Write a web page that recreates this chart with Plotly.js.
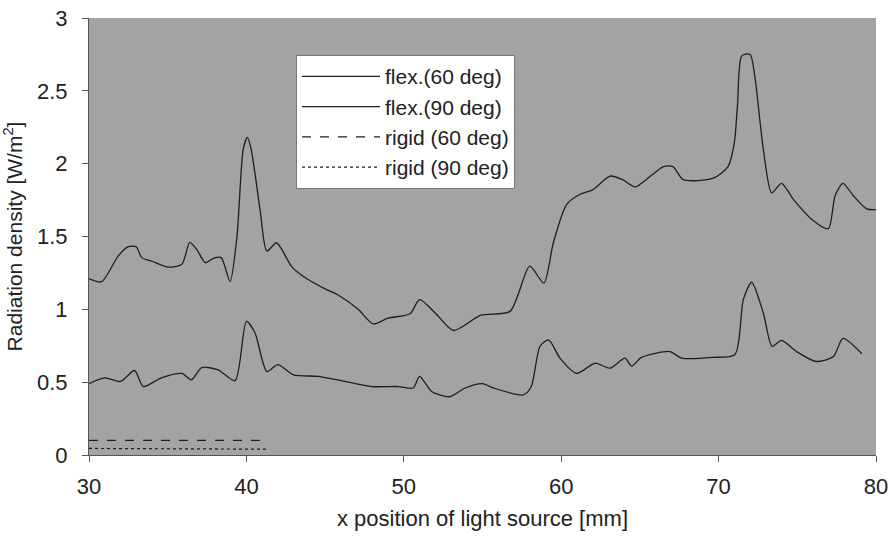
<!DOCTYPE html>
<html>
<head>
<meta charset="utf-8">
<script src="https://cdn.plot.ly/plotly-3.0.1.min.js"></script>
<style>html,body{margin:0;padding:0;background:#fff;}#chart{width:893px;height:536px;}</style>
</head>
<body>
<div id="chart"></div>
<script>
const seriesNames = ["flex.(60 deg)", "flex.(90 deg)", "rigid (60 deg)", "rigid (90 deg)"];

const flex60X = [30,30.8,31.85,32.5,33.0,33.35,34.0,35.0,35.9,36.4,36.85,37.4,37.9,38.4,38.96,39.4,39.8,40.06,40.3,40.86,41.3,41.9,42.2,42.9,43.7,45.0,45.8,47.1,48.06,49.0,50.4,51.0,52.0,53.15,54.9,56.75,58.0,58.9,59.5,60.35,61.2,62.0,63.1,63.9,64.7,65.4,66.5,67.1,67.76,69.66,70.6,71.0,71.2,71.47,72.0,72.3,72.84,73.37,74.0,74.75,76.0,76.97,77.4,77.9,78.56,79.4,80.0];
const flex60Y = [1.21,1.19,1.365,1.43,1.43,1.355,1.33,1.29,1.31,1.46,1.41,1.32,1.35,1.355,1.19,1.50,2.10,2.18,2.10,1.69,1.40,1.457,1.42,1.29,1.22,1.14,1.10,1.00,0.90,0.94,0.97,1.067,0.975,0.855,0.96,0.986,1.296,1.18,1.457,1.72,1.79,1.82,1.915,1.89,1.84,1.89,1.98,1.98,1.89,1.90,1.98,2.145,2.40,2.74,2.75,2.60,2.10,1.80,1.865,1.755,1.61,1.553,1.78,1.865,1.78,1.69,1.685];

const flex90X = [30,31.0,32.0,32.9,33.45,34.6,35.9,36.5,37.16,38.2,39.28,40.0,40.55,41.3,42.0,43.0,44.57,46.26,47.96,49.65,50.6,51.0,51.77,52.9,53.9,55.0,55.7,57.6,58.1,58.65,59.2,59.92,60.98,62.15,63.1,64.05,64.48,65.1,66.9,67.65,69.66,71.04,71.57,72.1,72.84,73.4,74.0,74.96,76.2,77.3,77.9,79.1];
const flex90Y = [0.49,0.53,0.505,0.58,0.47,0.53,0.56,0.516,0.60,0.585,0.51,0.917,0.837,0.573,0.62,0.55,0.54,0.505,0.47,0.47,0.46,0.54,0.436,0.40,0.46,0.49,0.46,0.413,0.47,0.745,0.79,0.665,0.56,0.63,0.596,0.665,0.61,0.67,0.71,0.665,0.67,0.69,1.067,1.186,0.975,0.745,0.787,0.71,0.642,0.677,0.80,0.695];

const rigid60X = [30,33,36,39,41.3];
const rigid60Y = [0.10,0.10,0.105,0.105,0.10];
const rigid90X = [30,33,36,39,41.3];
const rigid90Y = [0.045,0.045,0.04,0.04,0.04];

const xTicks = [30,40,50,60,70,80];
const yTicks = [0,0.5,1,1.5,2,2.5,3];
const yTickText = ["0","0.5","1","1.5","2","2.5","3"];

const lineCol = '#1e1e1e';
const traces = [
  {x: flex60X, y: flex60Y, name: seriesNames[0], mode: 'lines', legendgroup: 'a',
   line: {color: lineCol, width: 1.3, shape: 'spline', smoothing: 0.7}},
  {x: flex90X, y: flex90Y, name: seriesNames[1], mode: 'lines', legendgroup: 'b',
   line: {color: lineCol, width: 1.3, shape: 'spline', smoothing: 0.7}},
  {x: rigid60X, y: rigid60Y, name: seriesNames[2], mode: 'lines', legendgroup: 'c',
   line: {color: lineCol, width: 1.2, dash: 'dash'}},
  {x: rigid90X, y: rigid90Y, name: seriesNames[3], mode: 'lines', legendgroup: 'd',
   line: {color: lineCol, width: 1.2, dash: 'dot'}}
];

const fam = '"Liberation Sans", Arial, sans-serif';
const font = {family: fam, size: 22, color: '#222'};

const layout = {
  width: 893, height: 536,
  margin: {l: 89, r: 17, t: 18, b: 81},
  paper_bgcolor: '#ffffff',
  plot_bgcolor: '#a3a3a3',
  font: font,
  showlegend: true,
  legend: {
    x: 0.263, y: 0.915, xanchor: 'left', yanchor: 'top',
    bgcolor: '#ffffff', bordercolor: '#777', borderwidth: 1,
    font: {family: fam, size: 21, color: '#222'},
    traceorder: 'grouped', tracegroupgap: 0,
    itemwidth: 78
  },
  xaxis: {
    range: [30, 80], tickvals: xTicks, ticks: 'outside', ticklen: 6,
    tickcolor: '#555', showgrid: false, zeroline: false,
    showline: true, linecolor: '#555', linewidth: 1,
    ticklabelstandoff: 6,
    tickfont: {family: fam, size: 22, color: '#222'},
    title: {text: 'x position of light source [mm]', standoff: 12,
            font: {family: fam, size: 22, color: '#222'}}
  },
  yaxis: {
    range: [0, 3], tickvals: yTicks, ticktext: yTickText, ticks: 'outside', ticklen: 6,
    tickcolor: '#555', showgrid: false, zeroline: false,
    showline: true, linecolor: '#555', linewidth: 1,
    ticklabelstandoff: 10,
    tickfont: {family: fam, size: 22, color: '#222'},
    title: {text: 'Radiation density [W/m<sup>2</sup>]', standoff: 8,
            font: {family: fam, size: 21, color: '#222'}}
  }
};

Plotly.newPlot('chart', traces, layout, {displayModeBar: false, staticPlot: true});
</script>
</body>
</html>
